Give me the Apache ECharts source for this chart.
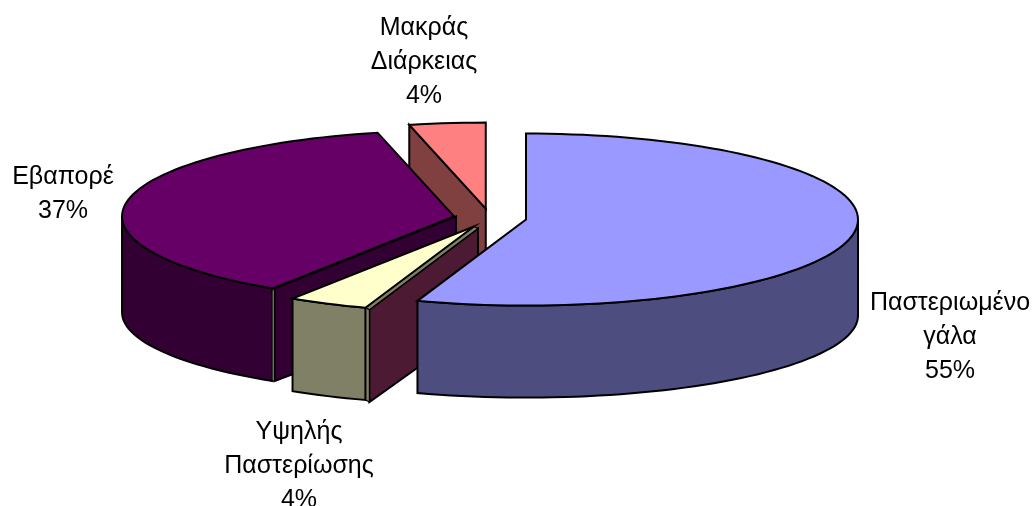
<!DOCTYPE html>
<html>
<head>
<meta charset="utf-8">
<style>
html,body{margin:0;padding:0;background:#fff;}
#chart{width:1032px;height:506px;}
</style>
<script src="https://cdn.jsdelivr.net/npm/echarts@6/dist/echarts.min.js"></script>
</head>
<body>
<div id="chart"></div>
<script>
// clockwise from 12 o'clock
var categories = ['Παστεριωμένο\nγάλα', 'Υψηλής\nΠαστερίωσης', 'Εβαπορέ', 'Μακράς\nΔιάρκειας'];
var values = [55.3, 3.9, 37.1, 3.7];

var topColors = ['#9999ff', '#ffffcc', '#660066', '#ff8080'];
var arcWallColors = ['#4d4d80', '#808066', '#330033', '#804040'];
var cutWallColors = ['#4d4d80', '#4d1a33', '#330033', '#804040'];
var cutShift = [[0, 0], [4, 2], [2, 0], [0, 0]];
var labelSpots = [[950, 303], [299, 432], [63, 177], [424, 28]];

var cx = 490, cy = 218, rx = 332, ryTop = 86, ryBottom = 82, drop = 96, explode = 36.5;
var total = values.reduce(function(a, b){ return a + b; }, 0);

function rad(deg){ return deg * Math.PI / 180; }

function rimPoint(ax, ay, deg, lower){
	if(lower){
		return [ax + rx * Math.sin(rad(deg)), ay + drop - ryBottom * Math.cos(rad(deg))];
	}
	return [ax + rx * Math.sin(rad(deg)), ay - ryTop * Math.cos(rad(deg))];
}

function arcPoints(ax, ay, from, to, lower){
	var pts = [];
	var steps = Math.max(2, Math.ceil(Math.abs(to - from) / 2));
	for(var i = 0; i <= steps; i++){
		pts.push(rimPoint(ax, ay, from + (to - from) * i / steps, lower));
	}
	return pts;
}

function renderSlice(params, api){
	var index = params.dataIndex;
	var before = 0;
	for(var i = 0; i < index; i++){
		before += values[i];
	}
	var start = before / total * 360;
	var end = start + api.value(0) / total * 360;
	var mid = (start + end) / 2;
	var ax = cx + explode * Math.sin(rad(mid));
	var ay = cy - explode * ryTop / rx * Math.cos(rad(mid));
	var base = (categories.length - index) * 20;
	var children = [];

	function poly(points, fill, width){
		children.push({
			type: 'polygon',
			z2: base + children.length,
			shape: {points: points},
			style: {fill: fill, stroke: '#000', lineWidth: width || 2, lineJoin: 'miter'}
		});
	}

	// straight wall of the cut, only the one facing the viewer
	var shift = cutShift[index];
	var sx = shift[0], sy = shift[1];
	if(start > 180 && start < 360){
		var edge = rimPoint(ax, ay, start, false);
		var edgeLow = rimPoint(ax, ay, start, true);
		poly([[ax + sx, ay + sy], [edge[0] + sx, edge[1] + sy],
			[edgeLow[0] + sx, edgeLow[1] + sy], [ax + sx, ay + drop + sy]], cutWallColors[index]);
		if(sx > 2){
			poly([[ax, ay], edge, [edge[0] + sx, edge[1] + sy], [ax + sx, ay + sy]], arcWallColors[index], 1.2);
			poly([edge, [edge[0] + sx, edge[1] + sy], [edgeLow[0] + sx, edgeLow[1] + sy], edgeLow], arcWallColors[index], 1.2);
		}
	}

	// curved wall on the front half
	var from = Math.max(start, 90), to = Math.min(end, 270);
	if(to > from){
		poly(arcPoints(ax, ay, from, to, false).concat(arcPoints(ax, ay, to, from, true)), arcWallColors[index]);
	}

	// top face
	poly([[ax, ay]].concat(arcPoints(ax, ay, start, end, false)), topColors[index]);

	// small pale seam on the purple slice corner
	if(sx === 2){
		var seam = rimPoint(ax, ay, start, false);
		var seamLow = rimPoint(ax, ay, start, true);
		children.push({
			type: 'line',
			z2: base + children.length,
			shape: {x1: seam[0] + 0.5, y1: seam[1] + 2, x2: seam[0] + 0.5, y2: seamLow[1] - 1},
			style: {stroke: '#8a8a78', lineWidth: 1}
		});
	}

	children.push({
		type: 'text',
		z2: 200,
		style: {
			text: categories[index] + '\n' + Math.round(api.value(0) / total * 100) + '%',
			x: labelSpots[index][0],
			y: labelSpots[index][1] - 17,
			align: 'center',
			verticalAlign: 'top',
			font: '25px "Liberation Sans", Arial, sans-serif',
			lineHeight: 34,
			fill: '#000'
		}
	});
	return {type: 'group', children: children};
}

var chart = echarts.init(document.getElementById('chart'));
chart.setOption({
	animation: false,
	backgroundColor: '#fff',
	series: [{
		type: 'custom',
		coordinateSystem: 'none',
		renderItem: renderSlice,
		data: values.map(function(v){ return [v]; })
	}]
});
</script>
</body>
</html>
